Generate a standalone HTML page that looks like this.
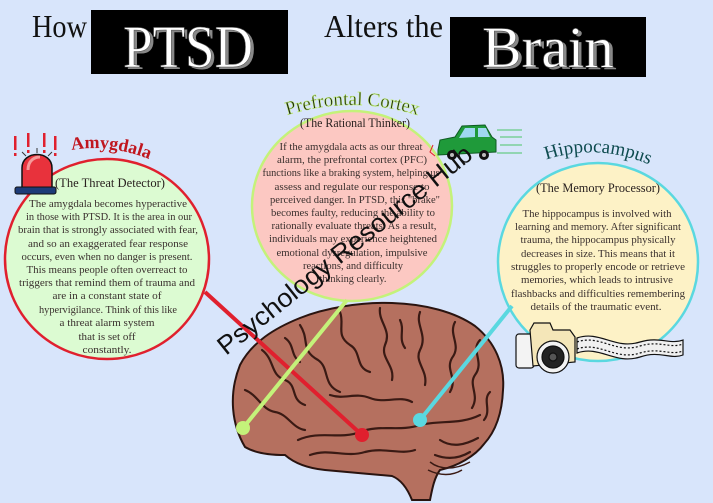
<!DOCTYPE html>
<html><head><meta charset="utf-8"><style>
html,body{margin:0;padding:0;background:#d8e5fb;}
svg{display:block}
.b{font-family:"Liberation Serif",serif;font-size:11px;fill:#3a302e;}
.s{font-family:"Liberation Serif",serif;font-size:12.5px;fill:#2a2220;}
</style></head><body>
<svg width="713" height="503" viewBox="0 0 713 503" xmlns="http://www.w3.org/2000/svg">
<rect width="713" height="503" fill="#d8e5fb"/>
<!-- title -->
<text x="32" y="37" font-family="Liberation Serif,serif" font-size="32" textLength="55" lengthAdjust="spacingAndGlyphs" fill="#111">How</text>
<rect x="91" y="10" width="197" height="64" fill="#000"/>
<text x="126" y="69" font-family="Liberation Serif,serif" font-size="60" textLength="130" lengthAdjust="spacingAndGlyphs" fill="#888">PTSD</text>
<text x="123" y="67" font-family="Liberation Serif,serif" font-size="60" textLength="130" lengthAdjust="spacingAndGlyphs" fill="#fff" stroke="#555" stroke-width="0.6">PTSD</text>
<text x="324" y="37" font-family="Liberation Serif,serif" font-size="32" textLength="119" lengthAdjust="spacingAndGlyphs" fill="#111">Alters the</text>
<rect x="450" y="17" width="196" height="60" fill="#000"/>
<text x="485" y="69" font-family="Liberation Serif,serif" font-size="58" textLength="132" lengthAdjust="spacingAndGlyphs" fill="#888">Brain</text>
<text x="482" y="67" font-family="Liberation Serif,serif" font-size="58" textLength="132" lengthAdjust="spacingAndGlyphs" fill="#fff" stroke="#555" stroke-width="0.6">Brain</text>

<!-- circles -->
<ellipse cx="107" cy="259" rx="102" ry="100" fill="#dcfbd2" stroke="#e0202e" stroke-width="2.5"/>
<ellipse cx="352" cy="206" rx="100" ry="95" fill="#fcc8c2" stroke="#c4f27a" stroke-width="2.5"/>
<ellipse cx="598" cy="262" rx="100" ry="99" fill="#fdf2c6" stroke="#5ad8e0" stroke-width="2.5"/>

<!-- brain -->
<path d="M245 447 C232 425 228 395 240 365 C252 342 275 328 300 318 C325 308 360 302 392 303 C425 304 455 312 475 326 C495 342 505 365 503 390 C502 415 495 432 484 444 C475 456 458 466 440 470 C434 478 432 490 430 500 L412 500 C408 490 402 480 392 476 C370 474 345 472 325 470 C305 468 293 462 285 455 C268 455 255 453 245 447 Z" fill="#b5705f" stroke="#2a1410" stroke-width="2"/>
<g fill="none" stroke="#3a1a14" stroke-width="2.2" stroke-linecap="round">
<path d="M262 350 C275 360 270 375 285 380 C298 385 290 400 305 405"/>
<path d="M300 325 C310 340 300 350 318 360 C330 368 322 385 340 392"/>
<path d="M340 312 C345 325 335 335 350 345 C362 352 355 368 370 372"/>
<path d="M380 308 C378 322 392 330 385 345 C380 358 395 365 392 380"/>
<path d="M420 312 C415 325 428 335 420 350 C414 362 428 370 425 385"/>
<path d="M455 322 C448 335 462 345 452 358 C445 370 458 378 450 392"/>
<path d="M480 340 C470 350 485 362 475 375 C468 385 480 395 472 408"/>
<path d="M245 390 C258 395 262 410 275 412 C288 414 292 428 305 430"/>
<path d="M298 440 C320 430 340 440 360 432 C380 424 400 432 420 425 C440 420 460 425 480 415"/>
<path d="M310 455 C330 448 345 458 365 452 C385 447 400 455 415 450"/>
<path d="M330 395 C345 400 355 392 370 398 C385 404 400 395 412 402"/>
<path d="M440 440 C452 448 465 445 478 438"/>
<path d="M435 455 C448 460 460 458 470 452"/>
<path d="M285 338 C295 345 290 355 300 362"/>
<path d="M400 320 C405 330 398 338 405 348"/>
<path d="M490 392 C482 400 492 410 484 420"/>
</g>
<path d="M430 462 C440 470 455 470 470 462 M428 470 C440 476 452 476 462 470" fill="none" stroke="#3a1a14" stroke-width="1.5"/>

<!-- connector lines (over brain) -->
<line x1="205" y1="292" x2="362" y2="435" stroke="#e0202e" stroke-width="4"/>
<line x1="347" y1="300" x2="243" y2="428" stroke="#c4f27a" stroke-width="4"/>
<line x1="512" y1="306" x2="420" y2="420" stroke="#5ad8e0" stroke-width="4"/>
<circle cx="243" cy="428" r="7" fill="#c4f27a"/>
<circle cx="362" cy="435" r="7" fill="#e0202e"/>
<circle cx="420" cy="420" r="7" fill="#5ad8e0"/>

<!-- alarm icon -->
<g>
<path d="M22 190 L22 168 C22 150 52 150 52 168 L52 190 Z" fill="#e8323c" stroke="#111" stroke-width="1.5"/>
<path d="M28 170 C28 160 35 157 40 157" fill="none" stroke="#f59a9a" stroke-width="3"/>
<rect x="15" y="187" width="41" height="7" rx="2" fill="#1d3b78" stroke="#111" stroke-width="1"/>
<g fill="#e0202e"><rect x="14" y="136" width="2.5" height="14"/><rect x="14" y="153" width="2.5" height="3"/>
<rect x="27" y="133" width="2.5" height="14"/><rect x="27" y="150" width="2.5" height="3"/>
<rect x="43" y="133" width="2.5" height="14"/><rect x="43" y="150" width="2.5" height="3"/>
<rect x="54" y="136" width="2.5" height="14"/><rect x="54" y="153" width="2.5" height="3"/></g>
<g stroke="#333" stroke-width="1"><line x1="22" y1="152" x2="26" y2="156"/><line x1="37" y1="148" x2="37" y2="153"/><line x1="52" y1="152" x2="48" y2="156"/></g>
</g>

<!-- car -->
<g>
<g stroke="#7bd09a" stroke-width="1.5"><line x1="497" y1="130" x2="522" y2="130"/><line x1="500" y1="137" x2="522" y2="137"/><line x1="500" y1="145" x2="522" y2="145"/><line x1="497" y1="153" x2="522" y2="153"/></g>
<path d="M438 150 L440 140 L455 137 L462 126 L485 125 L492 137 L496 140 L496 152 L438 155 Z" fill="#1f9a3a" stroke="#0e5a22" stroke-width="1"/>
<path d="M465 128 L475 128 L475 137 L459 138 Z M478 128 L486 128 L490 137 L478 137 Z" fill="#9fd8f0"/>
<circle cx="452" cy="155" r="5" fill="#111"/><circle cx="484" cy="155" r="5" fill="#111"/>
<circle cx="452" cy="155" r="2" fill="#bbb"/><circle cx="484" cy="155" r="2" fill="#bbb"/>
<path d="M433 145 L430 152 L435 156" fill="none" stroke="#e0202e" stroke-width="1"/>
</g>

<!-- camera + film -->
<g stroke="#111" stroke-width="1.2">
<path d="M577 338 C600 330 615 350 640 342 C660 336 670 345 683 340 L683 355 C670 360 660 350 640 357 C615 365 600 345 577 353 Z" fill="#f0f0f0"/>
<path d="M577 342 C600 334 615 354 640 346 C660 340 670 349 683 344 M577 349 C600 341 615 361 640 353 C660 347 670 356 683 351" fill="none" stroke-dasharray="2 2"/>
<rect x="516" y="334" width="18" height="34" rx="3" fill="#f3f3f3"/>
<path d="M530 330 L534 323 L550 323 L553 330 L570 330 L575 337 L575 362 L533 366 Z" fill="#f4e6b8"/>
<circle cx="553" cy="357" r="16" fill="#f3f3f3"/>
<circle cx="553" cy="357" r="11" fill="#222"/>
<circle cx="553" cy="357" r="4" fill="#555"/>
</g>

<!-- titles -->
<path id="pA" d="M55 154 Q108 138 165 166" fill="none"/>
<text font-family="Liberation Serif,serif" font-size="18" font-weight="bold" fill="#c0161f"><textPath href="#pA" startOffset="50%" text-anchor="middle">Amygdala</textPath></text>
<path id="pP" d="M250 130 Q352 80 455 130" fill="none"/>
<text font-family="Liberation Serif,serif" font-size="19" fill="#1e2a10" stroke="#c4f27a" stroke-width="0.5"><textPath href="#pP" startOffset="50%" text-anchor="middle">Prefrontal Cortex</textPath></text>
<path id="pH" d="M530 166 Q597 136 665 172" fill="none"/>
<text font-family="Liberation Serif,serif" font-size="19" fill="#0e4b4f"><textPath href="#pH" startOffset="50%" text-anchor="middle">Hippocampus</textPath></text>

<!-- amygdala text -->
<g text-anchor="middle">
<text class="s" x="110" y="187" textLength="110" lengthAdjust="spacingAndGlyphs">(The Threat Detector)</text>
<text class="b" x="108" y="207" textLength="158" lengthAdjust="spacingAndGlyphs">The amygdala becomes hyperactive</text>
<text class="b" x="109" y="220" textLength="166" lengthAdjust="spacingAndGlyphs">in those with PTSD. It is the area in our</text>
<text class="b" x="108" y="233" textLength="180" lengthAdjust="spacingAndGlyphs">brain that is strongly associated with fear,</text>
<text class="b" x="108" y="247" textLength="160" lengthAdjust="spacingAndGlyphs">and so an exaggerated fear response</text>
<text class="b" x="107" y="260" textLength="171" lengthAdjust="spacingAndGlyphs">occurs, even when no danger is present.</text>
<text class="b" x="107" y="273" textLength="161" lengthAdjust="spacingAndGlyphs">This means people often overreact to</text>
<text class="b" x="107" y="286" textLength="176" lengthAdjust="spacingAndGlyphs">triggers that remind them of trauma and</text>
<text class="b" x="107" y="299" textLength="109" lengthAdjust="spacingAndGlyphs">are in a constant state of</text>
<text class="b" x="108" y="313" textLength="138" lengthAdjust="spacingAndGlyphs">hypervigilance. Think of this like</text>
<text class="b" x="107" y="326" textLength="95" lengthAdjust="spacingAndGlyphs">a threat alarm system</text>
<text class="b" x="107" y="340" textLength="57" lengthAdjust="spacingAndGlyphs">that is set off</text>
<text class="b" x="107" y="353" textLength="49" lengthAdjust="spacingAndGlyphs">constantly.</text>
</g>

<!-- prefrontal text -->
<g text-anchor="middle">
<text class="s" x="355" y="127" textLength="110" lengthAdjust="spacingAndGlyphs">(The Rational Thinker)</text>
<text class="b" x="351" y="150" textLength="143" lengthAdjust="spacingAndGlyphs">If the amygdala acts as our threat</text>
<text class="b" x="352" y="163" textLength="150" lengthAdjust="spacingAndGlyphs">alarm, the prefrontal cortex (PFC)</text>
<text class="b" x="351" y="176" textLength="177" lengthAdjust="spacingAndGlyphs">functions like a braking system, helping us</text>
<text class="b" x="352" y="190" textLength="155" lengthAdjust="spacingAndGlyphs">assess and regulate our response to</text>
<text class="b" x="355" y="203" textLength="170" lengthAdjust="spacingAndGlyphs">perceived danger. In PTSD, this "brake"</text>
<text class="b" x="353" y="216" textLength="164" lengthAdjust="spacingAndGlyphs">becomes faulty, reducing the ability to</text>
<text class="b" x="354" y="229" textLength="165" lengthAdjust="spacingAndGlyphs">rationally evaluate threats. As a result,</text>
<text class="b" x="353" y="242" textLength="168" lengthAdjust="spacingAndGlyphs">individuals may experience heightened</text>
<text class="b" x="352" y="256" textLength="151" lengthAdjust="spacingAndGlyphs">emotional dysregulation, impulsive</text>
<text class="b" x="353" y="269" textLength="100" lengthAdjust="spacingAndGlyphs">reactions, and difficulty</text>
<text class="b" x="353" y="282" textLength="67" lengthAdjust="spacingAndGlyphs">thinking clearly.</text>
</g>

<!-- hippocampus text -->
<g text-anchor="middle">
<text class="s" x="598" y="192" textLength="124" lengthAdjust="spacingAndGlyphs">(The Memory Processor)</text>
<text class="b" x="597" y="217" textLength="149" lengthAdjust="spacingAndGlyphs">The hippocampus is involved with</text>
<text class="b" x="598" y="230" textLength="166" lengthAdjust="spacingAndGlyphs">learning and memory. After significant</text>
<text class="b" x="598" y="243" textLength="155" lengthAdjust="spacingAndGlyphs">trauma, the hippocampus physically</text>
<text class="b" x="598" y="257" textLength="154" lengthAdjust="spacingAndGlyphs">decreases in size. This means that it</text>
<text class="b" x="598" y="270" textLength="174" lengthAdjust="spacingAndGlyphs">struggles to properly encode or retrieve</text>
<text class="b" x="597" y="283" textLength="152" lengthAdjust="spacingAndGlyphs">memories, which leads to intrusive</text>
<text class="b" x="598" y="297" textLength="174" lengthAdjust="spacingAndGlyphs">flashbacks and difficulties remembering</text>
<text class="b" x="596" y="310" textLength="131" lengthAdjust="spacingAndGlyphs">details of  the traumatic event.</text>
</g>

<!-- watermark -->
<text x="0" y="0" transform="translate(226,356) rotate(-38.7)" font-family="Liberation Sans,sans-serif" font-size="26" textLength="318" lengthAdjust="spacingAndGlyphs" fill="#111">Psychology Resource Hub</text>
</svg>
</body></html>
